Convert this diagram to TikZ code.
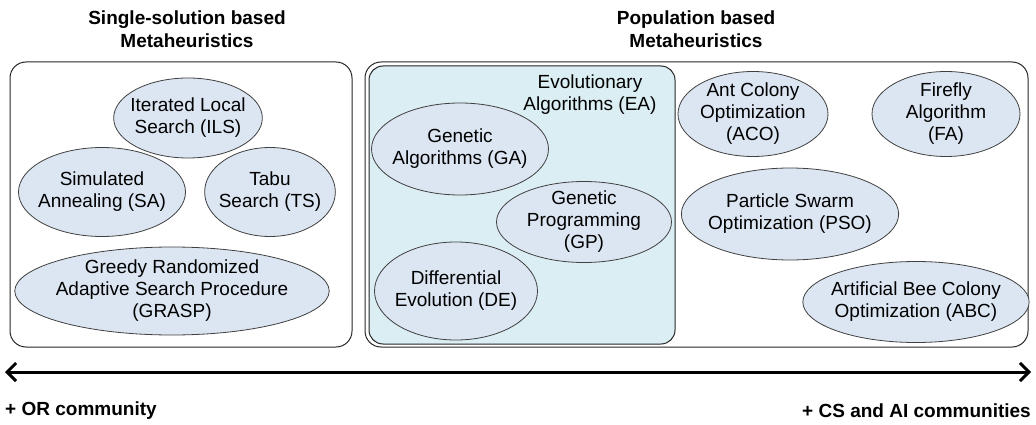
\documentclass[tikz,border=0pt]{standalone}
\usepackage{fontspec}
\setmainfont{Liberation Sans}
\usepackage{tikz}
\usetikzlibrary{shapes.geometric,arrows.meta}
\definecolor{algofill}{HTML}{DCE6F2}
\definecolor{eafill}{HTML}{DAEEF3}
\definecolor{algoline}{HTML}{404040}

\begin{document}
\begin{tikzpicture}[x=1pt,y=-1pt,
    algo/.style={ellipse,draw=algoline,fill=algofill,line width=0.8pt,inner sep=-5pt,align=center,font=\fontsize{19}{22}\selectfont},
    titel/.style={align=center,inner sep=0pt,font=\fontsize{19}{23}\selectfont\bfseries},
    gruppe/.style={draw=black!85,line width=1pt,rounded corners=16pt,inner sep=0pt}]
    \useasboundingbox (0,0) rectangle (1036,425);

    \draw node at (187,29)[titel,name=single]{Single-solution based\\Metaheuristics};
    \draw node at (696,29)[titel,name=population]{Population based\\Metaheuristics};

    \draw node at (181,204.5)[gruppe,minimum width=342,minimum height=285,name=singlebox]{};
    \draw node at (696.5,204.5)[gruppe,minimum width=663,minimum height=285,name=popbox]{};
    \draw node at (522,205)[gruppe,fill=eafill,rounded corners=14pt,minimum width=306,minimum height=278,name=eabox]{};
    \draw node at (590,95)[align=center,inner sep=0pt,font=\fontsize{19}{22}\selectfont,name=ea]{Evolutionary\\Algorithms (EA)};

    % single-solution
    \draw node at (188,118)[algo,minimum width=143,minimum height=80,name=ils]{Iterated Local\\Search (ILS)};
    \draw node at (102,192)[algo,minimum width=167,minimum height=89,name=sa]{Simulated\\Annealing (SA)};
    \draw node at (270,192)[algo,minimum width=126,minimum height=89,name=ts]{Tabu\\Search (TS)};
    \draw node at (172,291)[algo,minimum width=307,minimum height=88,name=grasp]{Greedy Randomized\\Adaptive Search Procedure\\(GRASP)};

    % evolutionary
    \draw node at (460,149)[algo,minimum width=176,minimum height=92,name=ga]{Genetic\\Algorithms (GA)};
    \draw node at (584,222)[algo,minimum width=175,minimum height=81,name=gp]{Genetic\\Programming\\(GP)};
    \draw node at (456,291)[algo,minimum width=163,minimum height=98,name=de]{Differential\\Evolution (DE)};

    % swarm
    \draw node at (753,114)[algo,minimum width=150,minimum height=85,name=aco]{Ant Colony\\Optimization\\(ACO)};
    \draw node at (946,114)[algo,minimum width=148,minimum height=85,name=fa]{Firefly\\Algorithm\\(FA)};
    \draw node at (790,214)[algo,minimum width=214,minimum height=92,name=pso]{Particle Swarm\\Optimization (PSO)};
    \draw node at (916,302)[algo,minimum width=205,minimum height=81,name=abc]{Artificial Bee Colony\\Optimization (ABC)};

    \coordinate (links) at (5,372);
    \coordinate (rechts) at (1031,372);
    \draw[{Straight Barb[length=9pt,width=18pt]}-{Straight Barb[length=9pt,width=18pt]},line width=3pt](links) -- (rechts);
    \draw node at (5,411)[anchor=west,inner sep=0pt,font=\fontsize{19}{23}\selectfont\bfseries,name=or]{+ OR community};
    \draw node at (1031,411)[anchor=east,inner sep=0pt,font=\fontsize{19}{23}\selectfont\bfseries,name=csai]{+ CS and AI communities};
\end{tikzpicture}
\end{document}
